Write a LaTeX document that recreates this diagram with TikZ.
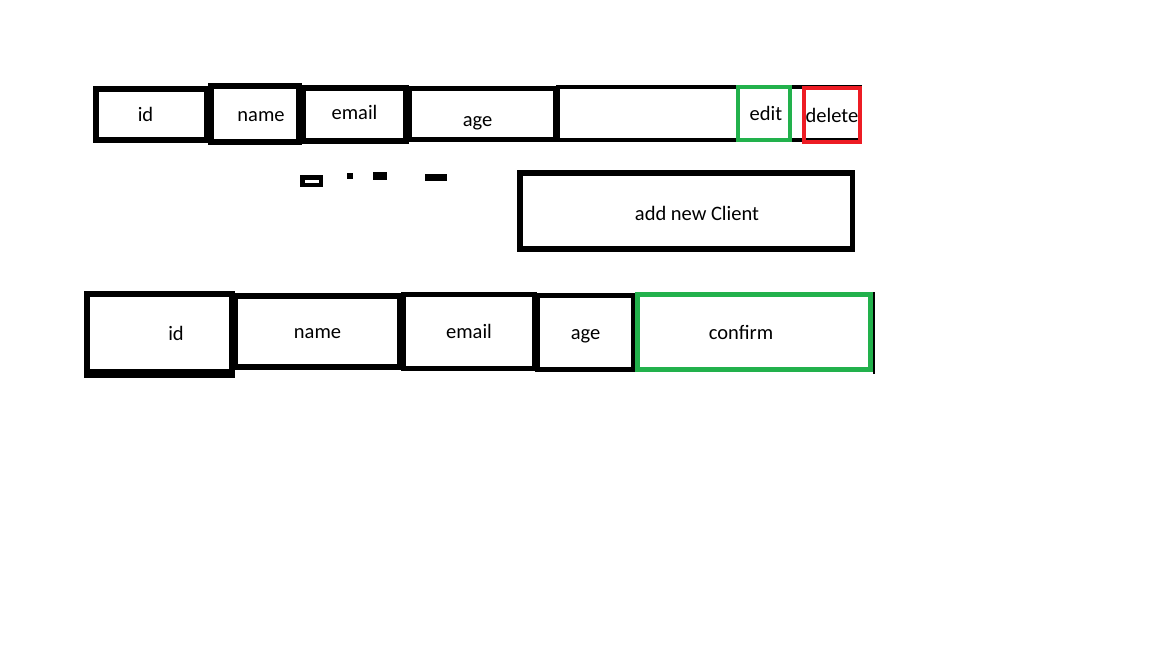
\documentclass[tikz,border=0pt]{standalone}
\usepackage{fontspec}
\setmainfont{Carlito}
\usetikzlibrary{positioning}

\definecolor{paintgreen}{HTML}{22B14C}
\definecolor{paintred}{HTML}{ED1C24}

\begin{document}
\begin{tikzpicture}[
  x=1pt, y=-1pt,
  cell/.style={draw, line width=6pt, inner sep=0pt, text height=17pt, text depth=3pt,
    font=\fontsize{20.5}{24}\selectfont},
  thin cell/.style={cell, line width=4.5pt},
  okbox/.style={cell, draw=paintgreen, line width=4.5pt},
  delbox/.style={cell, draw=paintred, line width=4.5pt},
  every label/.style={inner sep=0pt, text height=17pt, text depth=3pt, font=\fontsize{20.5}{24}\selectfont}
]
  \useasboundingbox (0,0) rectangle (1152,648);

  % list row
  \node[cell, minimum width=111, minimum height=51, label={[xshift=-6pt]center:id}] (id1) at (151.5,114.5) {};
  \node[cell, minimum width=88, minimum height=56, label={[xshift=6pt]center:name}] (name1) at (255,114) {};
  \node[cell, minimum width=103, minimum height=53, label={[yshift=2pt]center:email}] (email1) at (354.5,114.5) {};
  \node[thin cell, minimum width=146, minimum height=51, label={[xshift=-5pt, yshift=-5pt]center:age}] (age1) at (482.5,114) {};
  \node[thin cell, line width=4pt, minimum width=302, minimum height=53] (actions1) at (709,113.5) {};
  \node[okbox, minimum width=52, minimum height=53, label={[xshift=2pt]center:edit}] (edit1) at (764,113.5) {};
  \node[delbox, minimum width=56, minimum height=54] (delete1) at (832,115) {delete};

  % pager
  \draw[line width=4.5pt] (302.25,177.25) rectangle (320.75,184.75);
  \fill (347,173) rectangle (353,179);
  \fill (373,171.5) rectangle (387,179.5);
  \fill (425,174) rectangle (446.5,180.5);

  \node[thin cell, line width=5.5pt, minimum width=332.5, minimum height=76,
        label={[xshift=11pt, yshift=-3pt]center:add new Client}] (addnew) at (686,210.9) {};

  % new client row
  \node[cell, minimum width=145, minimum height=78, label={[xshift=16.5pt]center:id}] (id2) at (159.5,333) {};
  \draw[line width=3pt] (id2.south west) ++(0,1.5) -- ++(151,0);
  \node[cell, minimum width=165, minimum height=71] (name2) at (317.5,331.5) {name};
  \node[thin cell, line width=5pt, minimum width=131, minimum height=74] (email2) at (469,331.5) {email};
  \node[thin cell, line width=5pt, minimum width=96, minimum height=74] (age2) at (585.5,332) {age};
  \draw[line width=2pt] (age2.north east) ++(0,0.5) -- ++(238,0) -- ++(0,80.5);
  \node[okbox, line width=5pt, minimum width=233, minimum height=75, label={[xshift=-13pt]center:confirm}] (confirm2) at (754,332) {};
\end{tikzpicture}
\end{document}
